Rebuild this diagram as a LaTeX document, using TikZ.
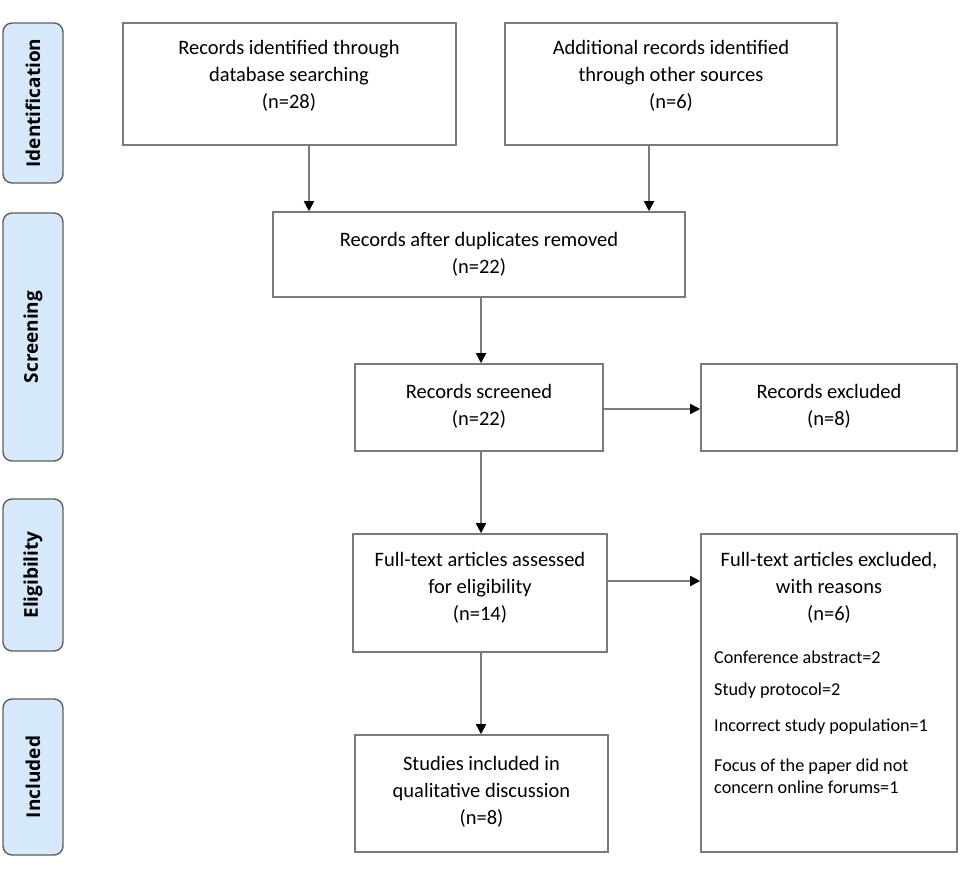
\documentclass[tikz,border=0pt]{standalone}
\usepackage{fontspec}
\setmainfont{Carlito}
\newfontfamily\sidefont{Open Sans}
\usetikzlibrary{arrows.meta}
\definecolor{linegray}{HTML}{7A7A7A}
\definecolor{sidefill}{HTML}{D6E9FB}
\definecolor{sidedraw}{HTML}{5E5E5E}
\tikzset{
  flowbox/.style={draw=linegray, line width=1.6pt, rectangle, inner sep=0pt},
  sidebox/.style={draw=sidedraw, fill=sidefill, line width=1.4pt, rounded corners=9pt, rectangle, inner sep=0pt, minimum width=60pt},
  sidelabel/.style={rotate=90, font=\sidefont\bfseries\fontsize{19}{22}\selectfont},
  maintext/.style={align=center, inner sep=0pt, font=\fontsize{20.5}{27}\selectfont},
  reasontext/.style={align=left, anchor=west, inner sep=0pt, font=\fontsize{18.2}{22.5}\selectfont},
  flowarrow/.style={draw=linegray, line width=1.6pt, -{Triangle[length=10pt,width=10pt,color=black]}}
}
\begin{document}
\begin{tikzpicture}[x=1pt,y=-1pt]
\useasboundingbox (0,0) rectangle (970,872);
% side boxes
\node[sidebox, minimum height=160pt] (sid) at (33,103) {};
\node[sidelabel] (sidt) at (sid) {Identification};
\node[sidebox, minimum height=248pt] (sscr) at (33,337) {};
\node[sidelabel] (sscrt) at (sscr) {Screening};
\node[sidebox, minimum height=152pt] (sel) at (33,575) {};
\node[sidelabel] (selt) at (sel) {Eligibility};
\node[sidebox, minimum height=156pt] (sinc) at (33,777) {};
\node[sidelabel] (sinct) at (sinc) {Included};
% flow boxes
\node[flowbox, minimum width=333pt, minimum height=122pt] (A) at (289.5,84) {};
\node[maintext] (At) at (289,76) {Records identified through\\database searching\\(n=28)};
\node[flowbox, minimum width=332pt, minimum height=122pt] (B) at (671,84) {};
\node[maintext] (Bt) at (671,76) {Additional records identified\\through other sources\\(n=6)};
\node[flowbox, minimum width=412pt, minimum height=85pt] (C) at (479,254.5) {};
\node[maintext] (Ct) at (479,254) {Records after duplicates removed\\(n=22)};
\node[flowbox, minimum width=248pt, minimum height=87pt] (D) at (479,407.5) {};
\node[maintext] (Dt) at (479,406) {Records screened\\(n=22)};
\node[flowbox, minimum width=256pt, minimum height=87pt] (E) at (829,407.5) {};
\node[maintext] (Et) at (829,406) {Records excluded\\(n=8)};
\node[flowbox, minimum width=254pt, minimum height=118pt] (F) at (480,593) {};
\node[maintext] (Ft) at (480,588) {Full-text articles assessed\\for eligibility\\(n=14)};
\node[flowbox, minimum width=256pt, minimum height=318pt] (G) at (829,693) {};
\node[maintext] (Gt) at (829,588) {Full-text articles excluded,\\with reasons\\(n=6)};
\node[reasontext] (G1) at (714,657) {Conference abstract=2};
\node[reasontext] (G2) at (714,691) {Study protocol=2};
\node[reasontext] (G3) at (714,727) {Incorrect study population=1};
\node[reasontext] (G4) at (714,776) {Focus of the paper did not\\concern online forums=1};
\node[flowbox, minimum width=253pt, minimum height=117pt] (H) at (481.5,793.5) {};
\node[maintext] (Ht) at (481.5,792) {Studies included in\\qualitative discussion\\(n=8)};
% connectors
\draw[flowarrow] (A.south -| 309,0) -- (C.north -| 309,0);
\draw[flowarrow] (B.south -| 649,0) -- (C.north -| 649,0);
\draw[flowarrow] (C.south -| 481,0) -- (D.north -| 481,0);
\draw[flowarrow] (D.south -| 481,0) -- (F.north -| 481,0);
\draw[flowarrow] (F.south -| 481,0) -- (H.north -| 481,0);
\draw[flowarrow] (D.east |- 0,409) -- (E.west |- 0,409);
\draw[flowarrow] (F.east |- 0,581) -- (G.west |- 0,581);
\end{tikzpicture}
\end{document}
